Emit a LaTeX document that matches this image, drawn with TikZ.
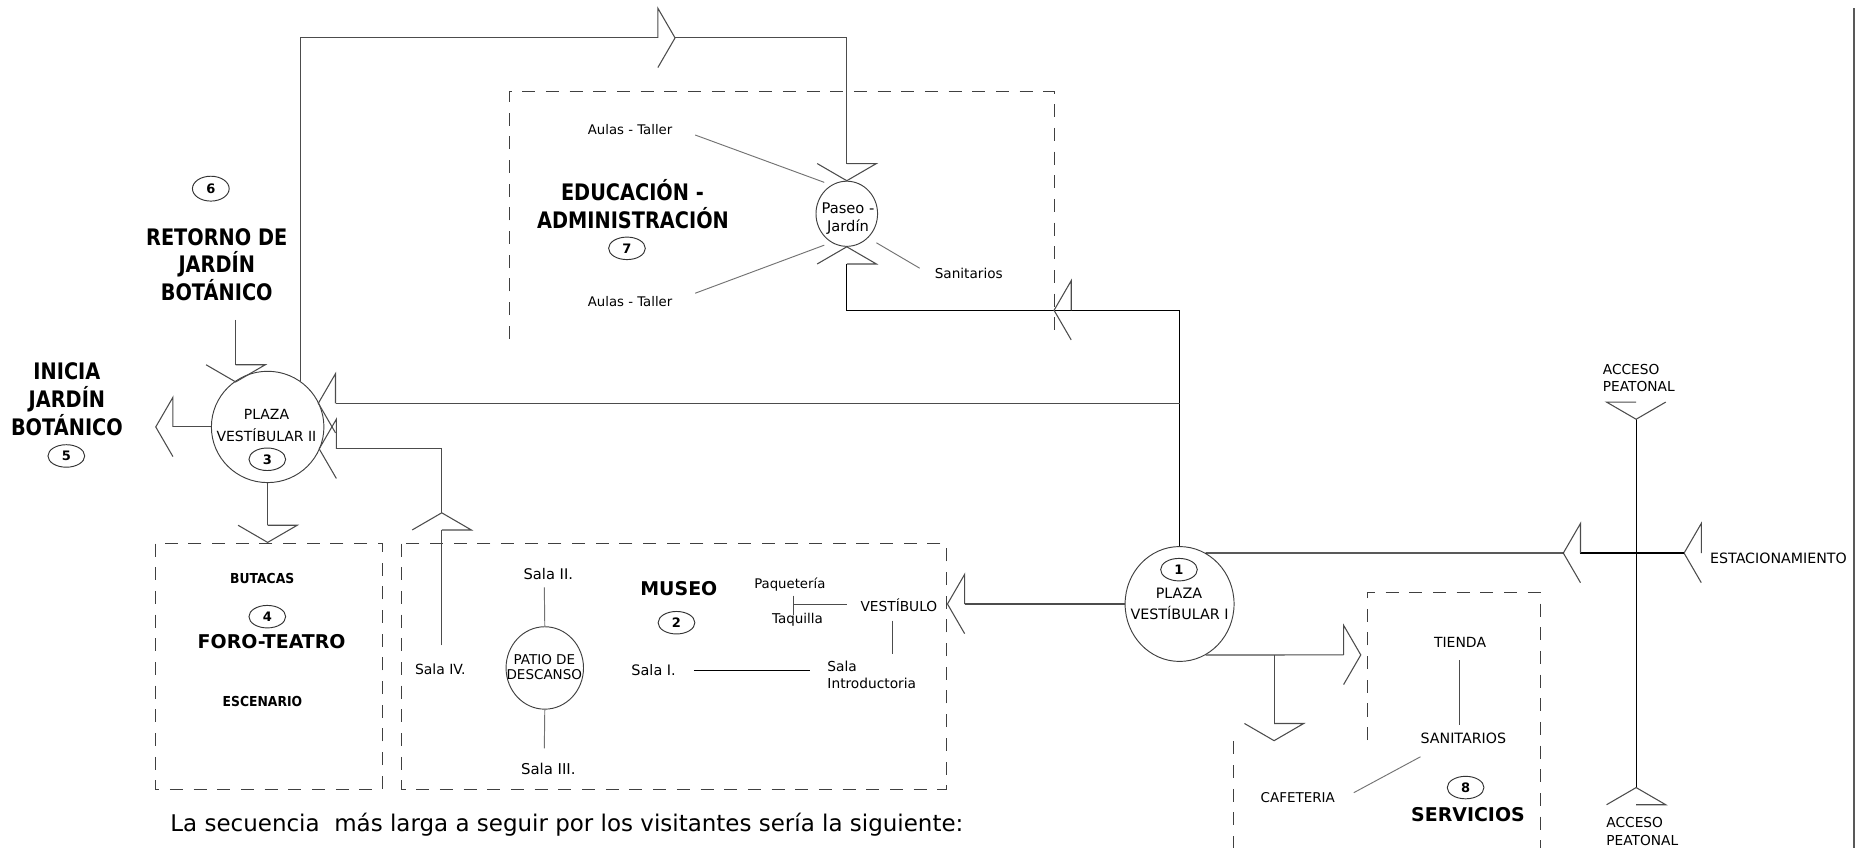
\documentclass[tikz,border=0pt]{standalone}
\usepackage{fontspec}
\setmainfont{DejaVu Sans}
\newfontfamily\hbfam{DejaVu Sans}[FakeStretch=0.85]
\newfontfamily\hvyfam{DejaVu Sans}[FakeStretch=0.9]
\usetikzlibrary{shapes.geometric}
\begin{document}
\begin{tikzpicture}[x=0.5pt,y=-0.5pt,
 ln/.style={draw=black!70, line width=0.45pt},
 lnk/.style={draw=black, line width=0.5pt},
 lnt/.style={draw=black!55, line width=0.4pt},
 dsh/.style={draw=black!75, line width=0.45pt, dash pattern=on 5.5pt off 4.5pt},
 circ/.style={ellipse, draw=black!75, line width=0.4pt, inner sep=0pt},
 num/.style={ellipse, draw=black!80, line width=0.4pt, inner sep=0pt, minimum width=15.5pt, minimum height=9.5pt, font=\bfseries\fontsize{5.5}{5.5}\selectfont, text height=4pt, text depth=0pt},
 tb/.style={inner sep=0pt, text depth=0pt},
 tx/.style={tb, font=\fontsize{#1}{#1}\selectfont, text height=4.2pt},
 tx/.default=5.8,
 hd/.style={tb, font=\hbfam\bfseries\fontsize{9.6}{9.6}\selectfont, text height=7pt},
 hv/.style={tb, font=\bfseries\fontsize{8}{8}\selectfont, text height=5.8pt},
 hy/.style={tb, font=\hvyfam\bfseries\fontsize{5.8}{5.8}\selectfont, text height=4.2pt},
 aR/.pic={\draw[ln] (-14.5,0) -- (-14.5,-25) -- (0,0) -- (-14.5,25);},
 aL/.pic={\draw[ln] (14.5,0) -- (14.5,-25) -- (0,0) -- (14.5,25);},
 aD/.pic={\draw[ln] (0,-14.5) -- (25,-14.5) -- (0,0) -- (-25,-14.5);},
 aDl/.pic={\draw[ln] (0,-14.5) -- (-25,-14.5) -- (0,0) -- (25,-14.5);},
 aU/.pic={\draw[ln] (0,14.5) -- (25,14.5) -- (0,0) -- (-25,14.5);}
]
\useasboundingbox (0,0) rectangle (1568,716);

% right edge line
\draw[draw=black!65, line width=0.9pt] (1565.5,7) -- (1565.5,716);

% dashed zones
\draw[dsh] (430,286) -- (430,77) -- (890,77) -- (890,287);
\draw[dsh] (131,459) rectangle (323,666.5);
\draw[dsh] (339,459) rectangle (799,666.5);
\draw[dsh] (1155,625) -- (1155,500) -- (1300.4,500) -- (1300.4,716);
\draw[dsh] (1041.5,626) -- (1041.5,716);

% circles
\node[circ, minimum width=47.5pt, minimum height=47pt] (p2) at (226,360.5) {};
\node[circ, minimum width=46pt, minimum height=48.5pt] (p1) at (996,510) {};
\node[circ, minimum width=26pt, minimum height=27.5pt] (pj) at (715,180.5) {};
\node[circ, minimum width=32.7pt, minimum height=34.8pt] (pd) at (460,564) {};

% number ellipses
\node[num] (n1) at (995.5,481) {1};
\node[num] (n2) at (571.2,525.8) {2};
\node[num] (n3) at (225.7,387.8) {3};
\node[num] (n4) at (225.7,520.7) {4};
\node[num] (n5) at (56,385) {5};
\node[num, minimum height=10.5pt] (n6) at (178,159.3) {6};
\node[num] (n7) at (529.4,209.7) {7};
\node[num] (n8) at (1237.5,665) {8};

% headings
\node[hd] (ret1) at (183,200) {RETORNO DE};
\node[hd] (ret2) at (183,223.5) {JARDÍN};
\node[hd] (ret3) at (183,247) {BOTÁNICO};
\node[hd] (ini1) at (56.5,313.8) {INICIA};
\node[hd] (ini2) at (56.5,337) {JARDÍN};
\node[hd] (ini3) at (56.5,361) {BOTÁNICO};
\node[hd] (edu1) at (534,162.7) {EDUCACIÓN -};
\node[hd] (edu2) at (534.5,185.8) {ADMINISTRACIÓN};
\node[hv] (mus) at (573.2,496.8) {MUSEO};
\node[hv] (foro) at (229.4,541.8) {FORO-TEATRO};
\node[hv] (serv) at (1239.5,688.2) {SERVICIOS};
\node[hy] (but) at (221.4,488.3) {BUTACAS};
\node[hy] (esc) at (221.6,592.5) {ESCENARIO};

% labels
\node[tx=5.6] (au1) at (532,109) {Aulas - Taller};
\node[tx=5.6] (au2) at (532,254.7) {Aulas - Taller};
\node[tx=5.75] (san) at (818,230.7) {Sanitarios};
\node[tx=6.2] (pas1) at (716,176) {Paseo -};
\node[tx=6.2] (pas2) at (716,191.4) {Jardín};
\node[tx=5.9] (pl2a) at (225,350.4) {PLAZA};
\node[tx=5.9] (pl2b) at (225,369) {VESTÍBULAR II};
\node[tx=6.05] (pl1a) at (995.5,501) {PLAZA};
\node[tx=6.05] (pl1b) at (996,518.7) {VESTÍBULAR I};
\node[tx, anchor=west] (ac1a) at (1353,311.6) {ACCESO};
\node[tx, anchor=west] (ac1b) at (1353,326.5) {PEATONAL};
\node[tx, anchor=west] (ac2a) at (1356,694.6) {ACCESO};
\node[tx, anchor=west] (ac2b) at (1356,709.8) {PEATONAL};
\node[tx=6, anchor=west] (est) at (1443.6,471.4) {ESTACIONAMIENTO};
\node[tx=5.9] (tie) at (1232.8,542.7) {TIENDA};
\node[tx=6] (san2) at (1235.6,624) {SANITARIOS};
\node[tx=5.7] (caf) at (1095.8,673.3) {CAFETERIA};
\node[tx=6.2] (s2) at (463,484.7) {Sala II.};
\node[tx=6.3] (s3) at (463,649.6) {Sala III.};
\node[tx=5.9] (s4) at (371.8,565.7) {Sala IV.};
\node[tx=5.7] (pat1) at (459.6,556.7) {PATIO DE};
\node[tx=5.7] (pat2) at (459.6,569.4) {DESCANSO};
\node[tx=5.6] (paq) at (666.9,493.1) {Paquetería};
\node[tx=5.7] (taq) at (673.4,522.1) {Taquilla};
\node[tx=5.8] (vest) at (759,512.3) {VESTÍBULO};
\node[tx=5.8, anchor=west] (si1) at (698.3,563) {Sala};
\node[tx=5.8, anchor=west] (si2) at (698.3,577) {Introductoria};
\node[tx=6.1] (s1) at (551.9,566.3) {Sala I.};
\node[tb, anchor=west, font=\fontsize{9.7}{9.7}\selectfont, text height=7.1pt] (seq) at (143.5,695.2) {La secuencia\ \ más larga a seguir por los visitantes sería la siguiente:};

% arrow apex coordinates
\coordinate (aTop) at (570,32);
\coordinate (j1) at (996,340.5);
\coordinate (j2) at (996,262);
\coordinate (aE) at (890,262);
\coordinate (aP2a) at (268.8,340.5);
\coordinate (aP2b) at (269.5,379);
\coordinate (aS4) at (373,433);
\coordinate (s4top) at (373,545);
\coordinate (aF) at (226,458);
\coordinate (aI) at (131.5,360.5);
\coordinate (aR6) at (199,322.5);
\coordinate (r6) at (199,270);
\coordinate (aM) at (800,510);
\coordinate (aE1) at (1320,467);
\coordinate (aE2) at (1422,467);
\coordinate (aA1) at (1381.5,354);
\coordinate (aA2) at (1381.5,665);
\coordinate (aT) at (1149,553);
\coordinate (jb) at (1075.8,553);
\coordinate (aC) at (1075.8,625.4);

% main circulation
\draw[ln] (p2.54) |- ([xshift=-7.25pt]aTop);
\pic at (aTop) {aR};
\draw[ln] (aTop) -| ([yshift=7.25pt]pj.north);
\pic at (pj.north) {aD};

\draw[lnk] (p1.north) -- (j2) -- (aE) -| ([yshift=-7.25pt]pj.south);
\pic at (aE) {aL};
\pic at (pj.south) {aU};

\draw[ln] (j1) -- ([xshift=7.25pt]aP2a);
\pic at (aP2a) {aL};

\draw[ln] (s4top) -- ([yshift=-7.25pt]aS4);
\pic at (aS4) {aU};
\draw[ln] (aS4) |- ([xshift=7.25pt]aP2b);
\pic at (aP2b) {aL};

\draw[ln] (p2.south) -- ([yshift=7.25pt]aF);
\pic at (aF) {aD};

\draw[ln] (p2.west) -- ([xshift=7.25pt]aI);
\pic at (aI) {aL};

\draw[ln] (r6) -- ([yshift=7.25pt]aR6);
\pic at (aR6) {aD};

\draw[ln] (p1.west) -- ([xshift=7.25pt]aM);
\pic at (aM) {aL};

\pic at (aE2) {aL};
\draw[lnk] (aE2) -- ([xshift=7.25pt]aE1);
\pic at (aE1) {aL};
\draw[lnk] (aE1) -- (p1.63);

\draw[lnk] (aA1) -- (aA2);
\pic at (aA1) {aDl};
\pic at (aA2) {aU};

\draw[ln] (p1.-63) -- ([xshift=-7.25pt]aT);
\pic at (aT) {aR};
\draw[ln] (jb) -- ([yshift=7.25pt]aC);
\pic at (aC) {aD};

% education links
\draw[lnt] (587,114) -- (696,154);
\draw[lnt] (587,247.6) -- (696,207);
\draw[lnt] (740,205) -- (776.6,226.5);

% museum links
\draw[lnt] (459.6,496) -- (pd.north);
\draw[lnt] (pd.south) -- (459.6,632);
\draw[lnk] (585.8,566.3) -- (683.7,566.3);
\draw[ln] (715,510.8) -- (670,510.8);
\draw[ln] (670,503) -- (670,519);
\draw[ln] (753.2,524) -- (753.2,552.5);

% services links
\draw[ln] (1232.5,557.3) -- (1232.5,612.2);
\draw[lnt] (1199.4,639) -- (1143.1,669.3);
\end{tikzpicture}
\end{document}
